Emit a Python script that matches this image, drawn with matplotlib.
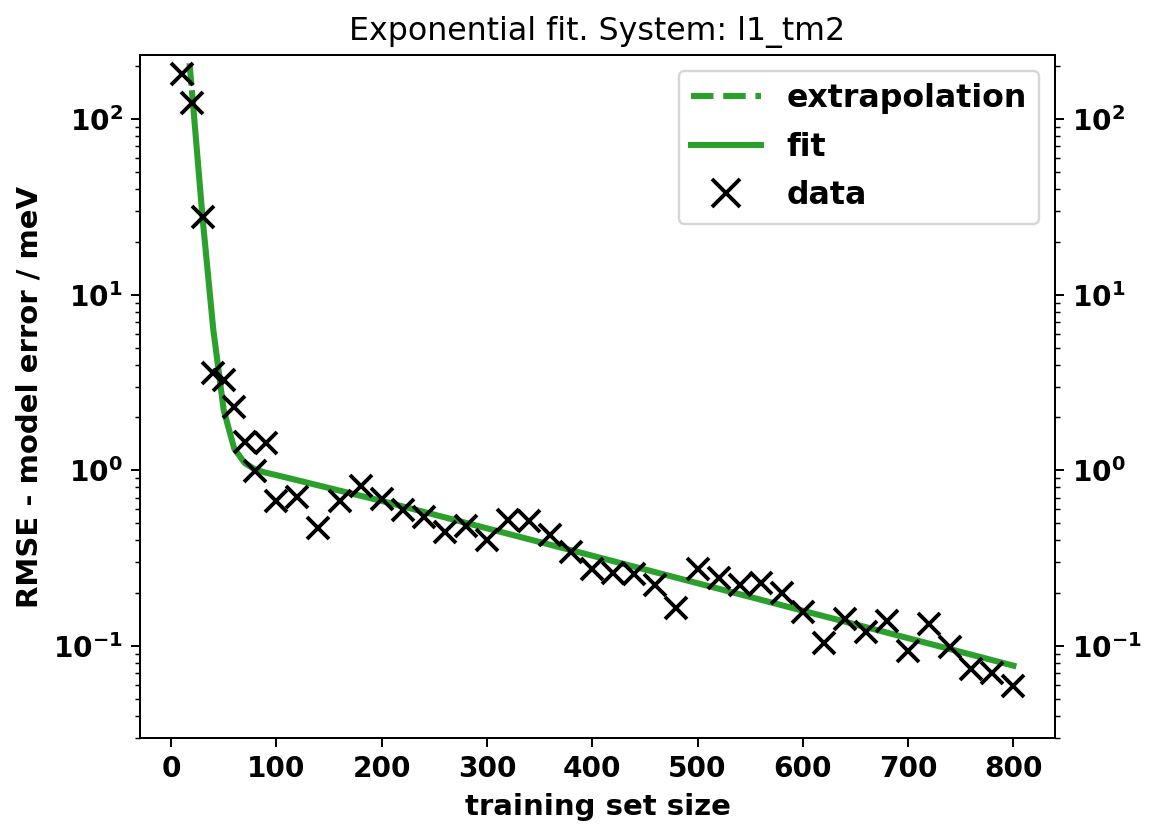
import matplotlib
matplotlib.use("Agg")
import matplotlib.pyplot as plt

# training set sizes and measured errors
train_size = [10, 20, 30, 40, 50, 60, 70, 80, 90, 100, 120, 140, 160, 180, 200,
              220, 240, 260, 280, 300, 320, 340, 360, 380, 400, 420, 440, 460,
              480, 500, 520, 540, 560, 580, 600, 620, 640, 660, 680, 700, 720,
              740, 760, 780, 800]
rmse = [180, 123, 27.7, 3.59, 3.25, 2.29, 1.45, 0.99, 1.43, 0.669, 0.705, 0.467,
        0.669, 0.811, 0.690, 0.593, 0.543, 0.446, 0.481, 0.404, 0.525, 0.515,
        0.427, 0.343, 0.276, 0.261, 0.257, 0.222, 0.164, 0.273, 0.243, 0.222,
        0.229, 0.201, 0.157, 0.104, 0.142, 0.121, 0.139, 0.094, 0.133, 0.099,
        0.074, 0.070, 0.059]

# fitted curve
fit_x = [20, 30, 40, 50, 60, 70, 80, 90, 100, 200, 300, 400, 500, 600, 700, 800]
fit_y = [140, 27, 6.4, 2.2, 1.33, 1.1, 1.01, 0.97, 0.94, 0.67, 0.468, 0.327,
         0.228, 0.159, 0.111, 0.0774]

# extrapolation below the fit range
extra_x = [10, 20]
extra_y = [700, 140]

plt.rcParams['font.weight'] = 'bold'
plt.rcParams['axes.labelweight'] = 'bold'

DPI = 175
fig = plt.figure(figsize=(1150 / DPI, 827 / DPI), dpi=DPI)
ax = fig.add_axes([140 / 1150, 1 - 738 / 827, 915 / 1150, 683 / 827])

green = '#2ca02c'
ax.plot(extra_x, extra_y, '--', color=green, lw=2.5, label='extrapolation')
ax.plot(fit_x, fit_y, '-', color=green, lw=2.5, label='fit')
ax.plot(train_size, rmse, 'x', color='black', ms=9, mew=1.6, label='data')

ax.set_yscale('log')
ax.set_xlim(-29.5, 839.5)
ax.set_ylim(0.03, 231)
ax.set_xticks(range(0, 801, 100))
ax.tick_params(labelsize=11.5)

ax.set_title('Exponential fit. System: l1_tm2', fontsize=13, fontweight='normal')
ax.set_xlabel('training set size', fontsize=12)
ax.set_ylabel('RMSE - model error / meV', fontsize=12)

ax.legend(loc='upper right', fontsize=13, markerscale=1.3, handlelength=2.2,
          labelspacing=0.55)

ax2 = ax.twinx()
ax2.set_yscale('log')
ax2.set_ylim(ax.get_ylim())
ax2.tick_params(labelsize=11.5)

fig.savefig('out.png', dpi=DPI)
